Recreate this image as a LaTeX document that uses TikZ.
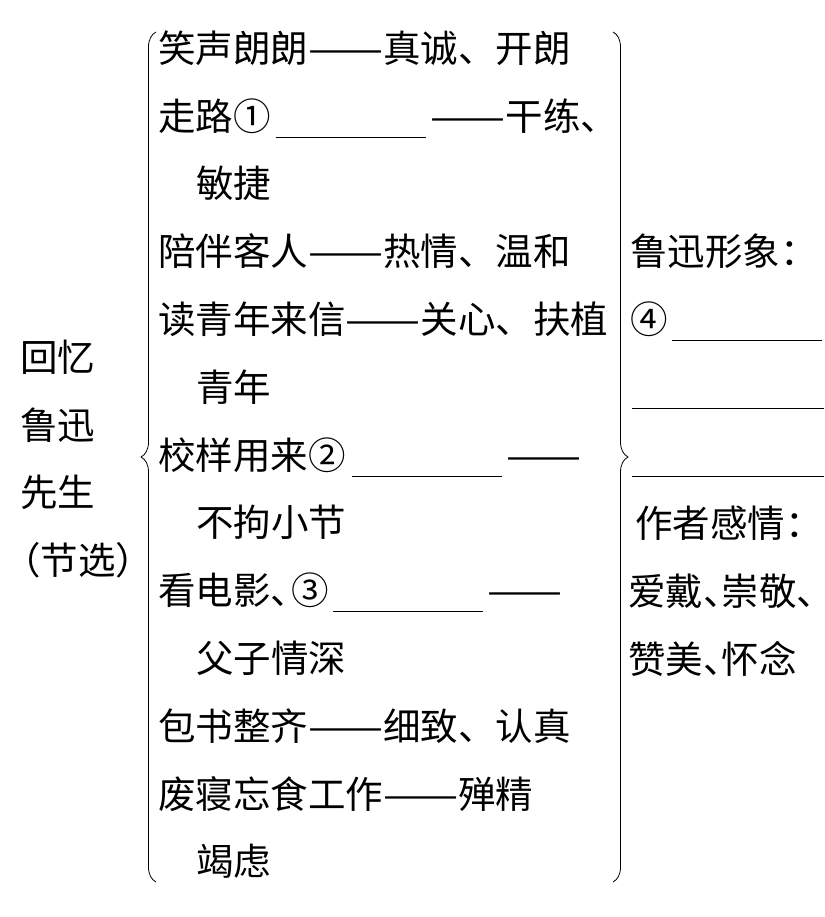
\documentclass[tikz,border=0pt]{standalone}
\usepackage{fontspec}
\usepackage{graphicx}
\setmainfont{Noto Sans CJK SC}
\usetikzlibrary{decorations.pathreplacing}
\newcommand{\blank}[1][4em]{\rule[-0.2em]{#1}{0.7pt}}
\newcommand{\dun}{、\kern-0.5em}
\newcommand{\zhdash}{\resizebox{2em}{\height}{——}}

\begin{document}
\begin{tikzpicture}[x=1pt,y=-1pt,
		row/.style={anchor=west,inner sep=0pt,text height=33pt,text depth=4.5pt,
			font=\fontsize{37.5}{45}\selectfont},
		bracel/.style={decorate,decoration={brace,amplitude=15pt},line width=0.8pt}]
		\useasboundingbox (0,0) rectangle (824,917);

		% Titol
		\foreach \dx/\t [count=\k] in {20/{回忆},20/{鲁迅},20/{先生},3/{（节选）}} {
			\node[row] (t\k) at ({\dx},{357+67.8*(\k-1)}) {\t};
		}

		% Files de l'esquerra
		\foreach \dx/\t [count=\k] in {
			0/{笑声朗朗\zhdash 真诚、开朗},
			0/{走路①\kern5pt\blank\kern5pt\zhdash 干练、},
			1/{敏捷},
			0/{陪伴客人\zhdash 热情、温和},
			0/{读青年来信\zhdash 关心、扶植},
			1/{青年},
			0/{校样用来②\kern6pt\blank\kern5pt\zhdash},
			1/{不拘小节},
			0/{看电影、\kern-0.45em③\kern4pt\blank\kern5pt\zhdash},
			1/{父子情深},
			0/{包书整齐\zhdash 细致、认真},
			0/{废寝忘食工作\zhdash 殚精},
			1/{竭虑}} {
			\node[row] (l\k) at ({158+38*\dx},{48+67.8*(\k-1)}) {\t};
		}

		% Columna dreta
		\node[row] (r1) at (630,251) {鲁迅形象：};
		\node[row] (r2) at (630,319) {④\kern4pt\blank};
		\node[row] (r3) at (632,387) {\blank[192pt]};
		\node[row] (r4) at (632,455) {\blank[192pt]};
		\node[row] (r5) at (635,523) {作者感情：};
		\node[row] (r6) at (628,591) {爱戴\dun 崇敬\dun};
		\node[row] (r7) at (628,659) {赞美\dun 怀念};

		% Claus
		\coordinate (lbt) at (156,32);
		\coordinate (lbb) at (156,882);
		\coordinate (rbt) at (613,32);
		\coordinate (rbb) at (613,882);
		\draw[bracel] (lbb) -- (lbt);
		\draw[bracel] (rbt) -- (rbb);
	\end{tikzpicture}
\end{document}
